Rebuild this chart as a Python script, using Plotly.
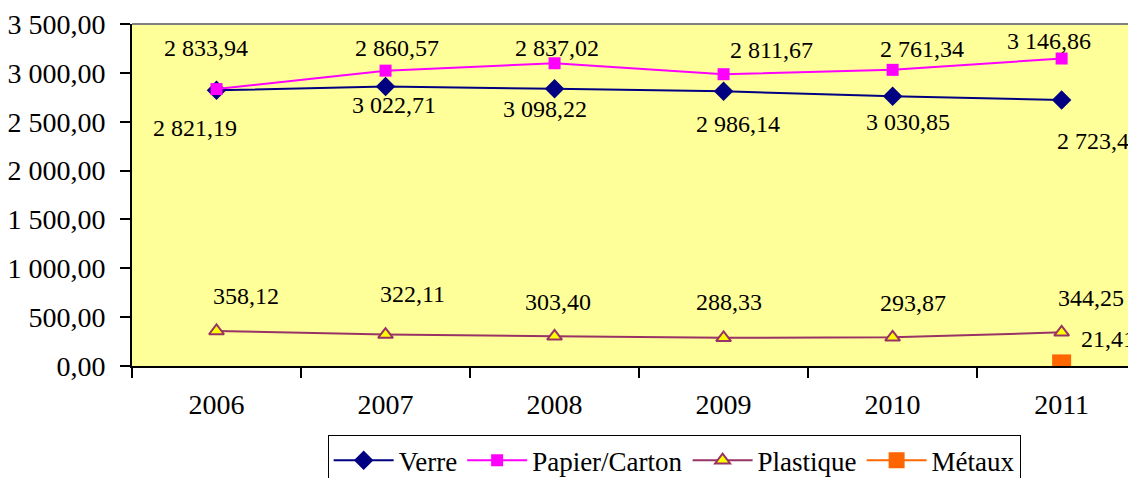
import plotly.graph_objects as go

years = ["2006", "2007", "2008", "2009", "2010", "2011"]
verre = [2821.19, 2860.57, 2837.02, 2811.67, 2761.34, 2723.41]
papier = [2833.94, 3022.71, 3098.22, 2986.14, 3030.85, 3146.86]
plastique = [358.12, 322.11, 303.40, 288.33, 293.87, 344.25]
metaux_years = ["2011"]
metaux = [21.41]
y_ticks = [0, 500, 1000, 1500, 2000, 2500, 3000, 3500]

# label pixel offsets (dx right, dy down) as placed in the reference
verre_off = [(-22, 38), (11, -38), (2, -41), (48, -41), (29, -47), (37, 41)]
papier_off = [(-11, -41), (8, 34), (-10, 46), (14, 50), (15, 52), (-13, -18)]
plast_off = [(29, -35), (27, -41), (3, -34), (5, -36), (20, -34), (29, -34)]
metaux_off = [(46, -25)]

FONT = "Liberation Serif"


def fr(v):
    return f"{v:,.2f}".replace(",", " ").replace(".", ",")


fig = go.Figure()
fig.add_trace(go.Scatter(x=years, y=verre, name="Verre", mode="lines+markers",
                         line=dict(color="#000080", width=2),
                         marker=dict(symbol="diamond", size=15, color="#000080")))
fig.add_trace(go.Scatter(x=years, y=papier, name="Papier/Carton", mode="lines+markers",
                         line=dict(color="#FF00FF", width=2),
                         marker=dict(symbol="square", size=12, color="#FF00FF")))
fig.add_trace(go.Scatter(x=years, y=plastique, name="Plastique", mode="lines+markers",
                         line=dict(color="#993366", width=2),
                         marker=dict(symbol="triangle-up", size=13, color="#FFFF00",
                                     line=dict(color="#993366", width=2))))
fig.add_trace(go.Scatter(x=metaux_years, y=metaux, name="Métaux", mode="lines+markers",
                         line=dict(color="#FF6600", width=2),
                         marker=dict(symbol="square", size=19, color="#FF6600")))

annotations = []
for xs, vals, offs in [(years, verre, verre_off), (years, papier, papier_off),
                       (years, plastique, plast_off), (metaux_years, metaux, metaux_off)]:
    for x, v, (dx, dy) in zip(xs, vals, offs):
        annotations.append(dict(x=years.index(x), y=v, xref="x", yref="y", text=fr(v),
                                showarrow=False, xshift=dx, yshift=-dy,
                                font=dict(family=FONT, size=24, color="black")))

# the page body has an 8px default margin, so the figure is drawn 8px in
fig.update_layout(
    width=1128, height=470,
    margin=dict(l=124, r=0, t=16, b=112, autoexpand=False),
    paper_bgcolor="white",
    plot_bgcolor="#FFFF99",
    separators=", ",
    font=dict(family=FONT, size=28, color="black"),
    annotations=annotations,
    showlegend=True,
    legend=dict(orientation="h", x=0.54, xanchor="center", y=-0.202, yanchor="top",
                bordercolor="black", borderwidth=1, bgcolor="white",
                font=dict(family=FONT, size=27, color="black"),
                itemwidth=60, tracegroupgap=0),
    shapes=[dict(type="line", xref="paper", yref="paper", x0=0, x1=1, y0=1, y1=1,
                 line=dict(color="#808080", width=2))],
)
fig.update_xaxes(type="category", range=[-0.5, 5.44], tickson="boundaries",
                 ticks="outside", ticklen=10, tickwidth=2, tickcolor="black",
                 showline=True, linecolor="black", linewidth=2, showgrid=False,
                 zeroline=False, ticklabelstandoff=12,
                 tickfont=dict(family=FONT, size=28, color="black"))
fig.update_yaxes(range=[0, 3500], tickvals=y_ticks, tickformat=",.2f",
                 ticks="outside", ticklen=10, tickwidth=2, tickcolor="black",
                 showline=True, linecolor="black", linewidth=2, showgrid=False,
                 zeroline=False, ticklabelstandoff=9,
                 tickfont=dict(family=FONT, size=28, color="black"))

fig.write_html("out.html")
